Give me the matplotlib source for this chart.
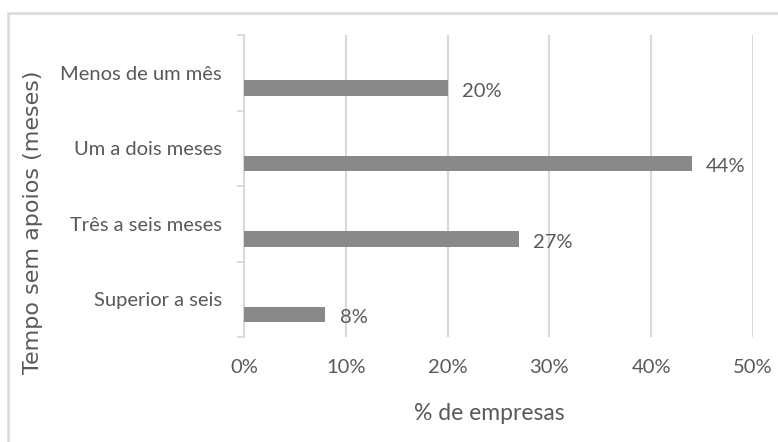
import matplotlib
matplotlib.use('Agg')
import numpy as np
import matplotlib.pyplot as plt
from matplotlib.patches import Rectangle
from matplotlib.ticker import FuncFormatter

categorias = ['Menos de um mês', 'Um a dois meses', 'Três a seis meses', 'Superior a seis']
valores = [20, 44, 27, 8]
xticks = [0, 10, 20, 30, 40, 50]

cinza_txt = '#595959'
cinza_barra = '#898989'
cinza_grelha = '#d9d9d9'
fonte = 'Lato'
tam = 14.5

fig = plt.figure(figsize=(7.78, 4.42), dpi=100)
ax = fig.add_axes([244/778, 1-337/442, (753-244)/778, (337-35)/442])

# moldura do grafico (estilo excel)
fig.patches.append(Rectangle((8/778, -0.1), 1.2, 1-13/442+0.1, transform=fig.transFigure,
                             fill=False, edgecolor=cinza_grelha, lw=1.8))

pos = np.arange(len(categorias))
desl = 0.205
ax.barh(pos + desl, valores, height=0.205, color=cinza_barra, zorder=3)
for p, v in zip(pos, valores):
    ax.text(v + 1.4, p + desl + 0.04, '%d%%' % v, va='center', ha='left',
            fontsize=tam, color=cinza_txt, family=fonte)

ax.set_xlim(0, 50)
ax.set_ylim(3.5, -0.5)
ax.set_xticks(xticks)
ax.xaxis.set_major_formatter(FuncFormatter(lambda x, _: '%d%%' % x))
ax.set_yticks(pos)
ax.set_yticklabels(categorias)
ax.set_yticks(np.arange(-0.5, 4, 1), minor=True)
ax.tick_params(axis='y', which='major', length=0, pad=16, labelsize=tam, labelcolor=cinza_txt)
ax.tick_params(axis='y', which='minor', length=5, width=1.3, color=cinza_grelha)
ax.tick_params(axis='x', length=0, pad=16, labelsize=tam, labelcolor=cinza_txt)
for t in ax.get_xticklabels() + ax.get_yticklabels():
    t.set_family(fonte)

ax.grid(axis='x', color=cinza_grelha, lw=1.5, zorder=0)
for s in ['top', 'right', 'bottom']:
    ax.spines[s].set_visible(False)
ax.spines['left'].set_color(cinza_grelha)
ax.spines['left'].set_linewidth(1.5)

fig.text(489/778, 1-414/442, '% de empresas', ha='center', va='center',
         fontsize=16.5, color=cinza_txt, family=fonte)
fig.text(33/778, 1-222/442, 'Tempo sem apoios (meses)', rotation=90, ha='center', va='center',
         fontsize=16, color=cinza_txt, family='DejaVu Sans')

plt.savefig('out.png', dpi=100)
